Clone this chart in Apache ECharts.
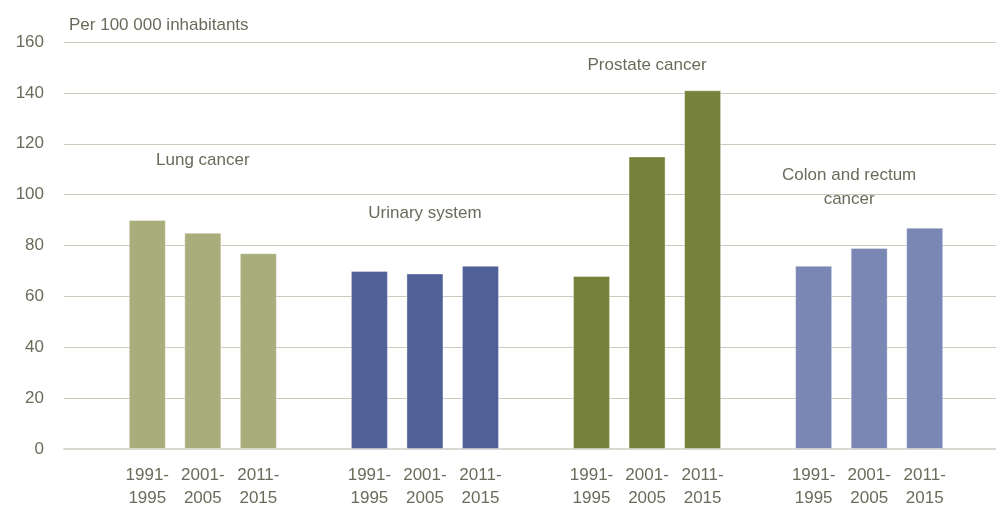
<!DOCTYPE html>
<html><head><meta charset="utf-8">
<script src="https://cdn.jsdelivr.net/npm/echarts@6/dist/echarts.min.js"></script>
<style>html,body{margin:0;padding:0;background:#fff;overflow:hidden}#wrap{width:996px;height:506px;overflow:hidden}#c{width:1008px;height:506px}</style>
</head><body><div id="wrap"><div id="c"></div></div>
<script>
const periods = ['1991-\n1995', '2001-\n2005', '2011-\n2015'];
const groupNames = ['Lung cancer', 'Urinary system', 'Prostate cancer', 'Colon and rectum\ncancer'];
const lung = [90, 85, 77];
const urinary = [70, 69, 72];
const prostate = [68, 115, 141];
const colon = [72, 79, 87];
const groupLabelValues = [113.5, 92.5, 151, 103];
const yTicks = [0, 20, 40, 60, 80, 100, 120, 140, 160];
const unitLabel = 'Per 100 000 inhabitants';

const groups = [lung, urinary, prostate, colon];
const colors = ['#a9ad7b', '#4f6196', '#76823a', '#7a86b4'];
const textColor = '#6b6b5b';
const font = "'Liberation Sans', Arial, sans-serif";

const categories = [];
const data = [];
const markData = [];
groups.forEach((g, gi) => {
  categories.push('');
  data.push('-');
  g.forEach((v, i) => {
    categories.push(periods[i]);
    data.push({ value: v, itemStyle: { color: colors[gi] } });
  });
  const mid = categories.length - 2;
  markData.push({
    name: groupNames[gi],
    coord: [mid, groupLabelValues[gi]],
    label: gi === 3 ? { offset: [-20, 0] } : {}
  });
});
categories.push('');
data.push('-');

const chart = echarts.init(document.getElementById('c'));
chart.setOption({
  animation: false,
  textStyle: { fontFamily: font },
  title: {
    text: unitLabel, left: 64, top: 12,
    textStyle: { fontSize: 17, fontWeight: 'normal', color: textColor, fontFamily: font }
  },
  grid: { left: 64, right: 0, top: 42, bottom: 57, containLabel: false, outerBoundsMode: 'none' },
  xAxis: {
    type: 'category', data: categories,
    axisLine: { show: true, lineStyle: { color: '#d9d9d2', width: 2 } },
    axisTick: { show: false },
    axisLabel: { interval: 0, color: textColor, fontSize: 17, lineHeight: 23, margin: 15, fontFamily: font }
  },
  yAxis: {
    type: 'value', min: yTicks[0], max: yTicks[yTicks.length - 1], interval: yTicks[1] - yTicks[0],
    axisLine: { show: false }, axisTick: { show: false },
    axisLabel: { color: textColor, fontSize: 17, margin: 20, fontFamily: font },
    splitLine: { lineStyle: { color: '#cbcbbd', width: 1 } }
  },
  series: [{
    type: 'bar', data: data, barWidth: 37,
    itemStyle: { borderColor: 'rgba(255,255,255,0.35)', borderWidth: 1 },
    markPoint: {
      symbol: 'circle', symbolSize: 0,
      label: {
        show: true, position: 'inside', formatter: '{b}', color: textColor,
        fontSize: 17, lineHeight: 24, fontFamily: font, align: 'center'
      },
      data: markData
    }
  }]
});
</script></body></html>
